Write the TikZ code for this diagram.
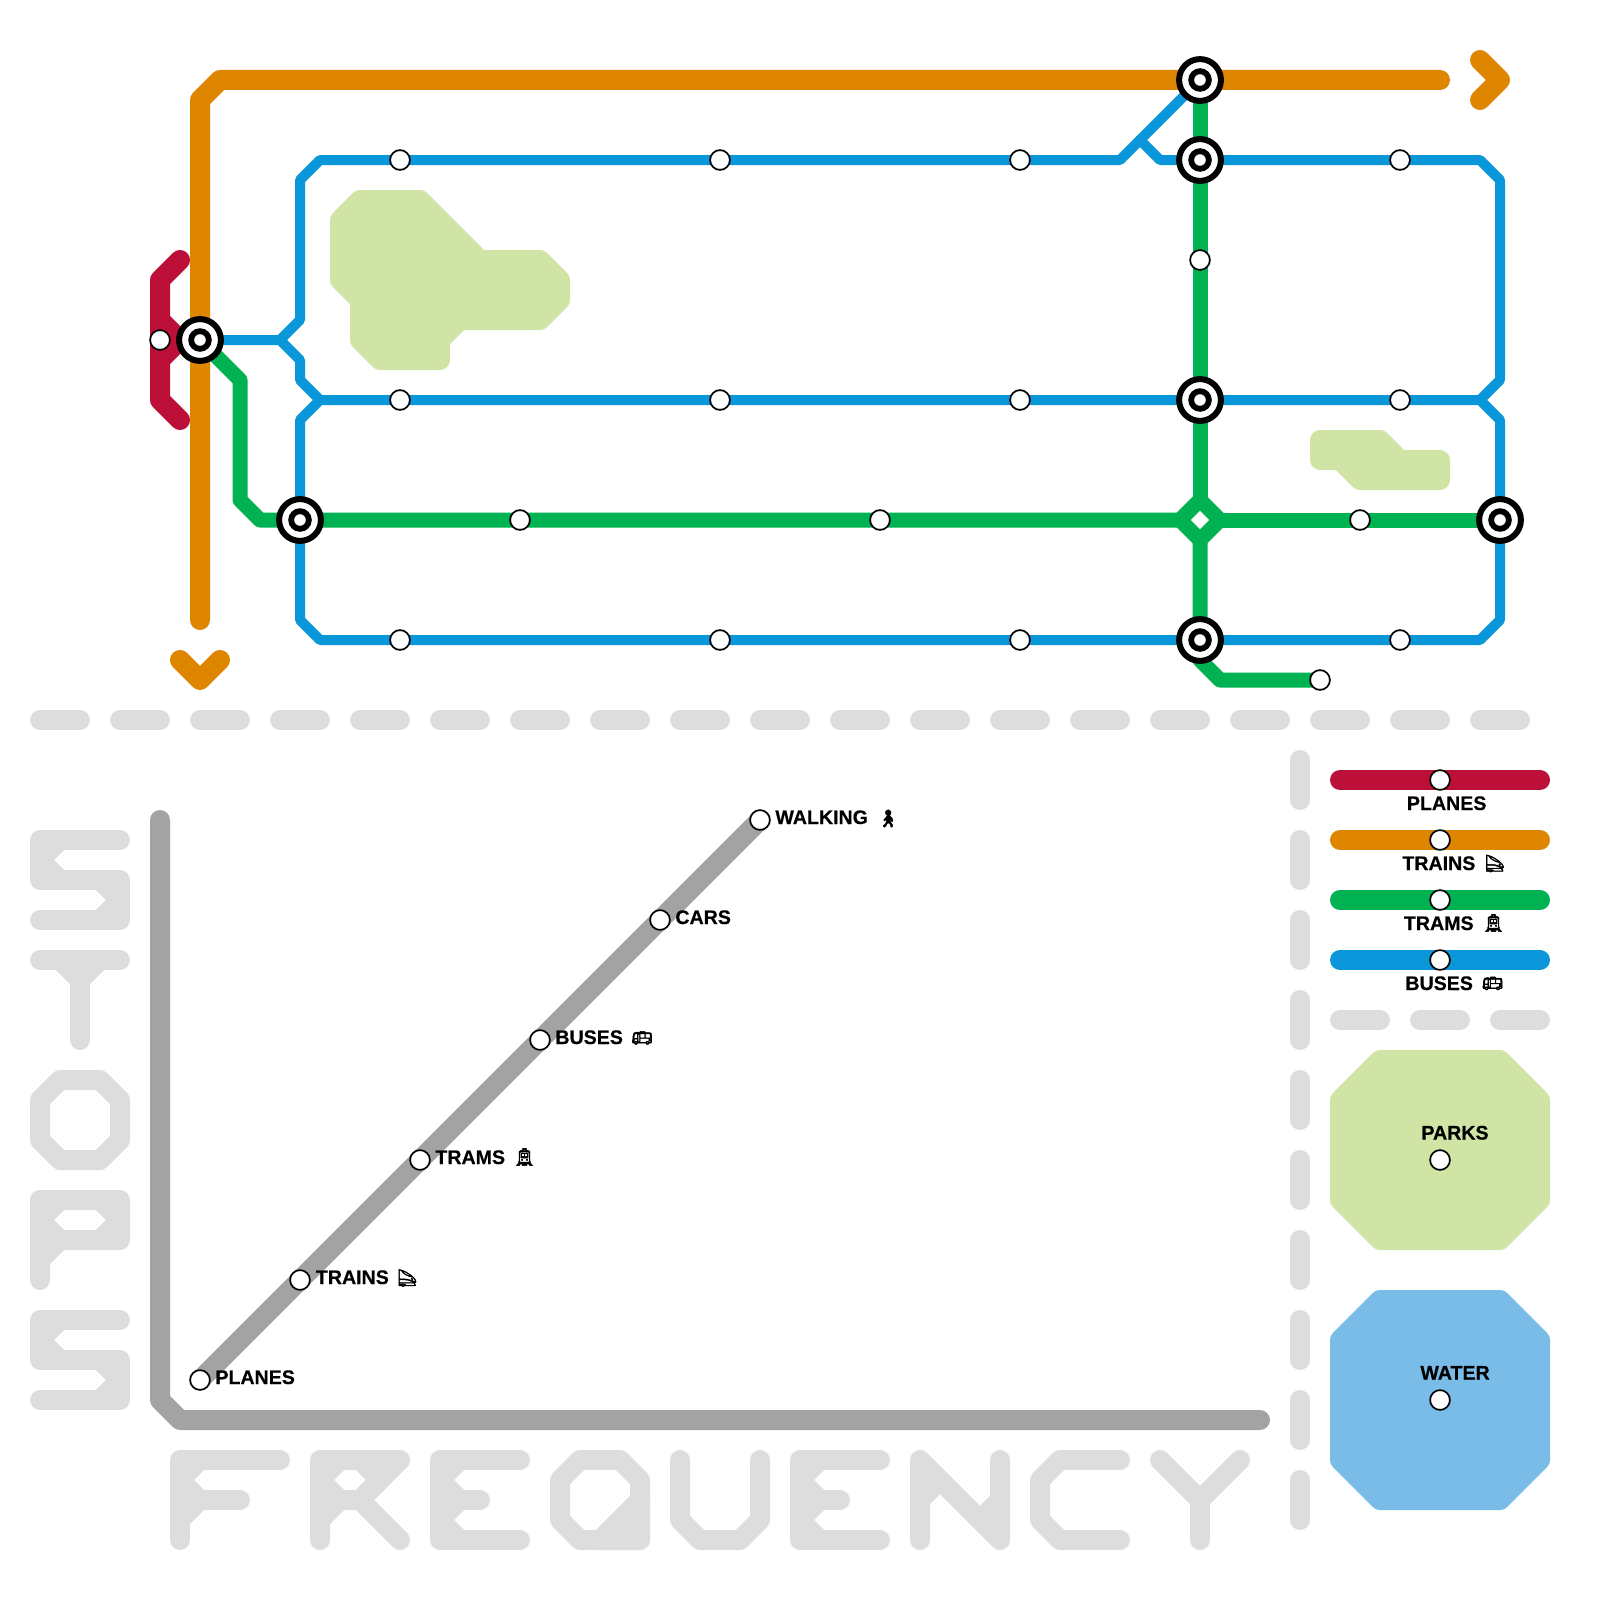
\documentclass[tikz,border=0pt]{standalone}
\usepackage{graphicx}
\usepackage{fontspec}
\setmainfont{Liberation Sans}[BoldFeatures={FakeBold=0.4}]
\newfontfamily\emojifont{Noto Emoji}[FakeBold=2.5]
\pgfdeclarelayer{bg}
\pgfsetlayers{bg,main}
\definecolor{cred}{HTML}{BD1038}
\definecolor{corange}{HTML}{DF8600}
\definecolor{cgreen}{HTML}{00B251}
\definecolor{cblue}{HTML}{0A97D9}
\definecolor{cgrey}{HTML}{A3A3A3}
\definecolor{clight}{HTML}{DDDDDD}
\definecolor{cpark}{HTML}{CFE4A5}
\definecolor{cwater}{HTML}{79BCE8}
\tikzset{
  x=0.5pt,y=-0.5pt,
  route/.style={line join=round,line cap=round},
  redline/.style={route,draw=cred,line width=10pt},
  orangeline/.style={route,draw=corange,line width=10pt},
  greenline/.style={route,draw=cgreen,line width=7.5pt},
  blueline/.style={route,draw=cblue,line width=5pt},
  greyline/.style={route,draw=cgrey,line width=10pt},
  dashbar/.style={route,draw=clight,line width=10pt},
  glyph/.style={route,draw=clight,line width=10pt},
  glyphfill/.style={route,draw=clight,fill=clight,line width=10pt},
  parkarea/.style={route,draw=cpark,fill=cpark,line width=10pt},
  waterarea/.style={route,draw=cwater,fill=cwater,line width=10pt},
  stopnode/.style={circle,draw=black,fill=white,line width=0.85pt,minimum size=9.9pt,inner sep=0pt},
  hubnode/.style={circle,draw=black,fill=white,line width=3pt,minimum size=20.9pt,inner sep=0pt,
    path picture={\draw[black,line width=2.9pt] (path picture bounding box.center) circle (4.42pt);}},
  labelnode/.style={anchor=base west,inner sep=0pt,font=\fontsize{9.8pt}{12pt}\selectfont\bfseries},
  iconnode/.style={inner sep=0pt,font=\fontsize{8.5pt}{10pt}\emojifont},
}
\begin{document}
\begin{tikzpicture}
\useasboundingbox (0,0) rectangle (1600,1600);
% hubs
\node[hubnode] (h1) at (1200,80) {};
\node[hubnode] (h2) at (1200,160) {};
\node[hubnode] (h3) at (1200,400) {};
\node[hubnode] (h4) at (1200,640) {};
\node[hubnode] (h5) at (200,340) {};
\node[hubnode] (h6) at (300,520) {};
\node[hubnode] (h7) at (1500,520) {};
% stops on the map
\node[stopnode] (s1) at (400,160) {};
\node[stopnode] (s2) at (720,160) {};
\node[stopnode] (s3) at (1020,160) {};
\node[stopnode] (s4) at (1400,160) {};
\node[stopnode] (s5) at (400,400) {};
\node[stopnode] (s6) at (720,400) {};
\node[stopnode] (s7) at (1020,400) {};
\node[stopnode] (s8) at (1400,400) {};
\node[stopnode] (s9) at (400,640) {};
\node[stopnode] (s10) at (720,640) {};
\node[stopnode] (s11) at (1020,640) {};
\node[stopnode] (s12) at (1400,640) {};
\node[stopnode] (s13) at (520,520) {};
\node[stopnode] (s14) at (880,520) {};
\node[stopnode] (s15) at (1360,520) {};
\node[stopnode] (s16) at (1200,260) {};
\node[stopnode] (s17) at (1320,680) {};
\node[stopnode] (s18) at (160,340) {};
% chart stops
\node[stopnode] (c1) at (200,1380) {};
\node[stopnode] (c2) at (300,1280) {};
\node[stopnode] (c3) at (420,1160) {};
\node[stopnode] (c4) at (540,1040) {};
\node[stopnode] (c5) at (660,920) {};
\node[stopnode] (c6) at (760,820) {};
% legend stops
\node[stopnode] (l1) at (1440,780) {};
\node[stopnode] (l2) at (1440,840) {};
\node[stopnode] (l3) at (1440,900) {};
\node[stopnode] (l4) at (1440,960) {};
\node[stopnode] (l5) at (1440,1160) {};
\node[stopnode] (l6) at (1440,1400) {};
% labels
\node[labelnode] (tc1) at (215,1384) {PLANES};
\node[labelnode] (tc2) at (315.5,1284) {TRAINS};
\node[iconnode] (ic2) at (407.5,1278) {\reflectbox{🚄}};
\node[labelnode] (tc3) at (435,1164) {TRAMS};
\node[iconnode] (ic3) at (524.5,1157) {🚊};
\node[labelnode] (tc4) at (555,1044) {BUSES};
\node[iconnode] (ic4) at (642,1038) {🚌};
\node[labelnode] (tc5) at (675,924) {CARS};
\node[labelnode] (tc6) at (775,824) {WALKING};
\node[iconnode] (ic6) at (888,818.5) {🚶};
\node[labelnode] (tl1) at (1406.5,810) {PLANES};
\node[labelnode] (tl2) at (1402,870) {TRAINS};
\node[iconnode] (il2) at (1495,863.5) {\reflectbox{🚄}};
\node[labelnode] (tl3) at (1403.5,930) {TRAMS};
\node[iconnode] (il3) at (1493.5,923) {🚊};
\node[labelnode] (tl4) at (1405,990) {BUSES};
\node[iconnode] (il4) at (1492.5,983.5) {🚌};
\node[labelnode] (tl5) at (1421,1139.5) {PARKS};
\node[labelnode] (tl6) at (1420,1379.5) {WATER};
\begin{pgfonlayer}{bg}
% parks
\draw[parkarea] (360,200)--(420,200)--(480,260)--(540,260)--(560,280)--(560,300)--(540,320)--(460,320)--(440,340)--(440,360)--(380,360)--(360,340)--(360,300)--(340,280)--(340,220)--cycle;
\draw[parkarea] (1320,440)--(1380,440)--(1400,460)--(1440,460)--(1440,480)--(1360,480)--(1340,460)--(1320,460)--cycle;
% red
\draw[redline] (180,260)--(160,280)--(160,400)--(180,420);
\draw[redline] (160,320)--(180,340)--(160,360);
% orange
\draw[orangeline] (200,620)--(h5.center)--(200,100)--(220,80)--(h1.center)--(1440,80);
\draw[orangeline] (1480,60)--(1500,80)--(1480,100);
\draw[orangeline] (180,660)--(200,680)--(220,660);
% blue
\draw[blueline] (h5.center)--(280,340)--(300,320)--(300,180)--(320,160)--(s1.center)--(s2.center)--(s3.center)--(1120,160)--(h1.center);
\draw[blueline] (1140,140)--(1160,160)--(h2.center)--(s4.center)--(1480,160)--(1500,180)--(1500,380)--(1480,400)--(s8.center)--(h3.center)--(s7.center)--(s6.center)--(s5.center)--(320,400)--(300,380)--(300,360)--(280,340);
\draw[blueline] (320,400)--(300,420)--(h6.center)--(300,620)--(320,640)--(s9.center)--(s10.center)--(s11.center)--(h4.center)--(s12.center)--(1480,640)--(1500,620)--(h7.center)--(1500,420)--(1480,400);
% green
\draw[greenline] (h5.center)--(240,380)--(240,500)--(260,520)--(h6.center)--(s13.center)--(s14.center)--(1180,520);
\draw[greenline] (1220,520)--(s15.center)--(h7.center);
\draw[greenline] (h1.center)--(h2.center)--(s16.center)--(h3.center)--(1200,500);
\draw[greenline] (1200,540)--(h4.center)--(1200,660)--(1220,680)--(s17.center);
\draw[greenline] (1180,520)--(1200,500)--(1220,520)--(1200,540)--cycle;
% separators
\foreach \k in {0,...,18} \draw[dashbar] ({40+80*\k},720)--({80+80*\k},720);
\foreach \k in {0,...,9} \draw[dashbar] (1300,{760+80*\k})--(1300,{800+80*\k});
\foreach \k in {0,1,2} \draw[dashbar] ({1340+80*\k},1020)--({1380+80*\k},1020);
% chart
\draw[greyline] (160,820)--(160,1400)--(180,1420)--(1260,1420);
\draw[greyline,line cap=butt] (c1.center)--(c2.center)--(c3.center)--(c4.center)--(c5.center)--(c6.center);
% legend
\draw[redline] (1340,780)--(l1.center)--(1540,780);
\draw[orangeline] (1340,840)--(l2.center)--(1540,840);
\draw[route,draw=cgreen,line width=10pt] (1340,900)--(l3.center)--(1540,900);
\draw[route,draw=cblue,line width=10pt] (1340,960)--(l4.center)--(1540,960);
\draw[parkarea] (1380,1060)--(1500,1060)--(1540,1100)--(1540,1200)--(1500,1240)--(1380,1240)--(1340,1200)--(1340,1100)--cycle;
\draw[waterarea] (1380,1300)--(1500,1300)--(1540,1340)--(1540,1460)--(1500,1500)--(1380,1500)--(1340,1460)--(1340,1340)--cycle;
% STOPS
\foreach \d in {0,480} {
  \begin{scope}[yshift={-0.5pt*\d}]
  \draw[glyph] (120,840)--(40,840)--(40,880)--(120,880)--(120,920)--(40,920);
  \draw[glyph] (60,840)--(40,860)--(60,880);
  \draw[glyph] (100,880)--(120,900)--(100,920);
  \end{scope}
}
\draw[glyph] (40,960)--(120,960);
\draw[glyph] (80,960)--(80,1040);
\draw[glyph] (60,960)--(80,980)--(100,960);
\draw[glyph] (60,1080)--(100,1080)--(120,1100)--(120,1140)--(100,1160)--(60,1160)--(40,1140)--(40,1100)--cycle;
\draw[glyph] (40,1200)--(120,1200)--(120,1240)--(60,1240)--(40,1260)--(40,1280);
\draw[glyph] (40,1200)--(40,1260);
\draw[glyph] (60,1200)--(40,1220)--(60,1240);
\draw[glyph] (100,1200)--(120,1220)--(100,1240);
% FREQUENCY
\draw[glyph] (280,1460)--(180,1460)--(180,1540);
\draw[glyph] (180,1500)--(240,1500);
\draw[glyph] (200,1460)--(180,1480)--(200,1500)--(180,1520);
\draw[glyph] (320,1540)--(320,1460)--(400,1460)--(360,1500)--(400,1540);
\draw[glyph] (340,1460)--(320,1480)--(340,1500)--(360,1500)--(380,1480)--(360,1460);
\draw[glyph] (340,1500)--(320,1520);
\foreach \d in {0,360} {
  \begin{scope}[xshift={0.5pt*\d}]
  \draw[glyph] (520,1460)--(440,1460)--(440,1540)--(520,1540);
  \draw[glyph] (440,1500)--(480,1500);
  \draw[glyph] (460,1460)--(440,1480)--(460,1500)--(440,1520)--(460,1540);
  \end{scope}
}
\draw[glyph] (580,1460)--(620,1460)--(640,1480)--(640,1540)--(580,1540)--(560,1520)--(560,1480)--cycle;
\draw[glyphfill] (640,1500)--(640,1540)--(600,1540)--cycle;
\draw[glyph] (680,1460)--(680,1520)--(700,1540)--(740,1540)--(760,1520)--(760,1460);
\draw[glyph] (920,1540)--(920,1460)--(1000,1540)--(1000,1460);
\draw[glyph] (920,1500)--(940,1480);
\draw[glyph] (1000,1500)--(980,1520);
\draw[glyph] (1120,1460)--(1060,1460)--(1040,1480)--(1040,1520)--(1060,1540)--(1120,1540);
\draw[glyph] (1160,1460)--(1200,1500)--(1240,1460);
\draw[glyph] (1200,1500)--(1200,1540);
\end{pgfonlayer}
\end{tikzpicture}
\end{document}
